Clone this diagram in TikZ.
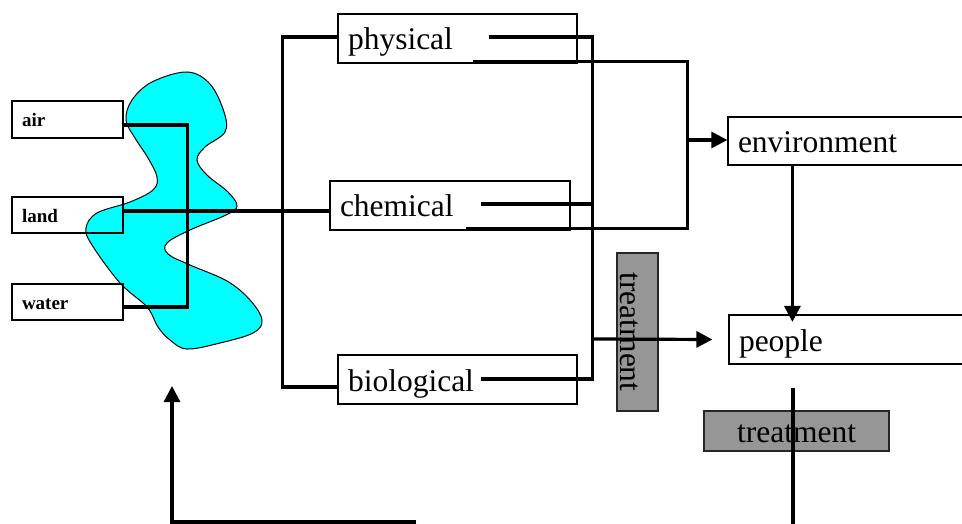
\documentclass[tikz,border=0pt]{standalone}
\usepackage{fontspec}
\setmainfont{Liberation Serif}
\usetikzlibrary{arrows.meta,calc}
\definecolor{blobcyan}{RGB}{0,255,255}
\definecolor{treatgray}{RGB}{150,150,150}
\begin{document}
\begin{tikzpicture}[x=1pt,y=-1pt,
  smallbox/.style={draw,line width=1.2pt,minimum width=111pt,minimum height=#1,
    inner ysep=0pt,inner xsep=10pt,text width=91pt,align=left,
    font=\fontsize{19}{22}\selectfont\bfseries,text height=15pt,text depth=0pt},
  bigbox/.style={draw,line width=1.2pt,minimum height=49pt,
    inner ysep=0pt,inner xsep=10pt,align=left,
    font=\fontsize{31.5}{36}\selectfont,text height=29pt,text depth=6pt},
  treatbox/.style={draw=black!85,line width=1.2pt,fill=treatgray,inner sep=0pt,
    font=\fontsize{31.5}{36}\selectfont,align=center},
  conn/.style={line width=3.2pt,line join=miter},
  arr/.style={conn,-{Triangle[length=16pt,width=16pt]}}
]
\useasboundingbox (0,0) rectangle (962,524);
\clip (0,0) rectangle (962,524);

% blob
\draw[fill=blobcyan,line width=1pt] plot[smooth cycle,tension=0.6] coordinates {
 (187,72) (210,84) (224,112) (225,132) (205,147) (197,160) (207,175) (228,192)
 (237,206) (226,215) (190,230) (167,243) (168,254) (190,265) (227,281) (250,300)
 (262,320) (253,333) (220,343) (187,349) (170,340) (158,327) (147,307) (120,283)
 (92,245) (86,228) (97,213) (130,202) (153,190) (157,177) (148,158) (135,138)
 (126,120) (132,100) (152,82)};

% boxes
\node[smallbox=37pt] (air) at (67.5,119.5) {air};
\node[smallbox=36pt] (land) at (67.5,215) {land};
\node[smallbox=36pt] (water) at (67.5,302) {water};
\node[bigbox,minimum width=239pt,text width=219pt] (phys) at (457.5,38.5) {physical};
\node[bigbox,minimum width=240pt,text width=220pt] (chem) at (450,205.5) {chemical};
\node[bigbox,minimum width=239pt,text width=219pt] (bio) at (457.5,379.5) {biological};
\node[bigbox,minimum height=48pt,minimum width=250pt,text width=230pt] (env) at (853,141) {environment};
\node[bigbox,minimum width=250pt,text width=230pt] (people) at (854,339.5) {people};
\node[treatbox,minimum width=185pt,minimum height=40pt,text height=28pt,text depth=6pt] (treatH) at (796.5,431) {treatment};
\node[treatbox,rotate=-90,minimum width=158pt,minimum height=41pt,text height=34pt,text depth=0pt] (treatV) at (637.5,332) {treatment};

% air/water bracket
\draw[line width=3.4pt] ($(air.east)+(0,5.5)$) -- ($(air.east)+(64,5.5)$) -- ($(water.east)+(64,5)$) -- ($(water.east)+(0,5)$);
% land to chemical
\draw[conn] ($(land.east)+(0,-4)$) -- ($(chem.west)+(0,5.5)$);
% left bracket physical/biological
\draw[conn] ($(phys.west)+(0,-1.5)$) -- ($(phys.west)+(-55,-1.5)$) -- ($(bio.west)+(-55,7.5)$) -- ($(bio.west)+(0,7.5)$);
% right bracket physical/chemical/biological
\draw[conn] ($(phys.west)+(152,-1.5)$) -- ($(phys.west)+(255,-1.5)$) -- ($(bio.west)+(255,-0.5)$) -- ($(bio.west)+(144,-0.5)$);
\draw[conn] ($(chem.west)+(152,-1.5)$) -- ($(chem.west)+(263,-1.5)$);
\draw[arr] ($(phys.west)+(255,300.5)$) -- ($(people.west)+(-16,0)$);
% environment bracket
\draw[conn] ($(phys.south west)+(136,-2)$) -- ($(phys.south west)+(350,-2)$) -- ($(chem.south west)+(358,-2)$) -- ($(chem.south west)+(137,-2)$);
\draw[arr] ($(env.west)+(-40,-1)$) -- ($(env.west)+(0,-1)$);
% environment to people
\draw[arr] ($(env.south west)+(65,0)$) -- ($(people.north west)+(64,7.5)$);
% line below people
\coordinate (vtop) at (793,388);
\coordinate (vbot) at (793,530);
\draw[conn] (vtop) -- (vbot);
% bottom return arrow
\coordinate (retstart) at (416,522);
\coordinate (retcorner) at (172,522);
\coordinate (retend) at (172,386);
\draw[arr] (retstart) -- (retcorner) -- (retend);
\end{tikzpicture}
\end{document}
